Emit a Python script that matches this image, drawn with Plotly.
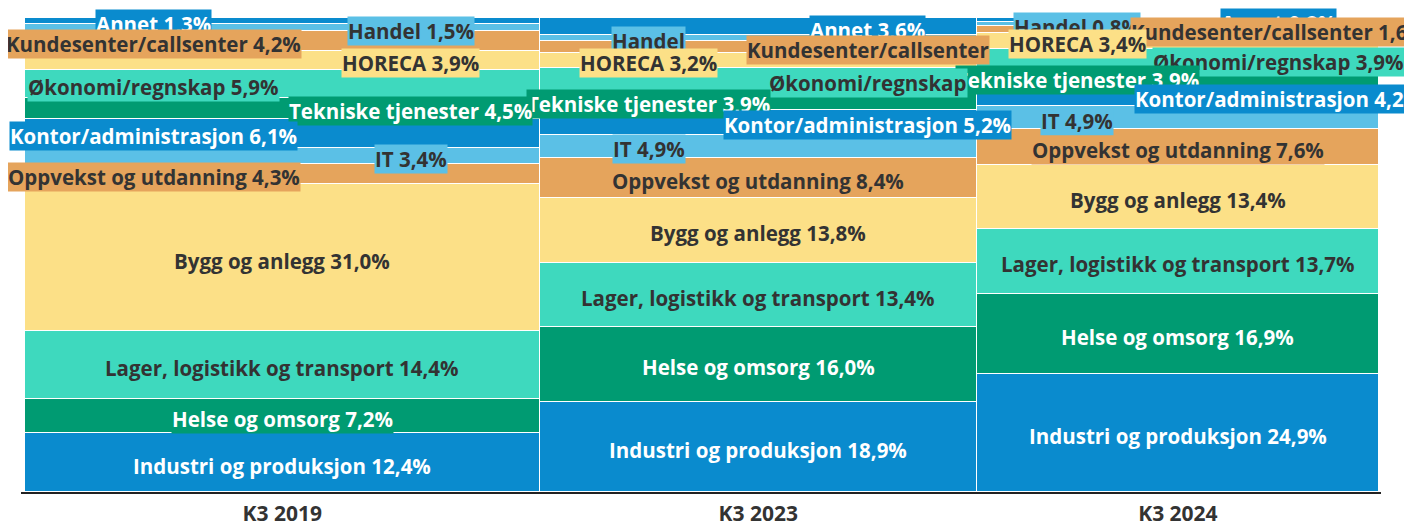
import plotly.graph_objects as go

periods = ["K3 2019", "K3 2023", "K3 2024"]
# relative width of each column (share of total volume)
period_share = [38.0, 32.3, 29.7]

# stacked from bottom to top
categories = [
    "Industri og produksjon", "Helse og omsorg", "Lager, logistikk og transport",
    "Bygg og anlegg", "Oppvekst og utdanning", "IT", "Kontor/administrasjon",
    "Tekniske tjenester", "Økonomi/regnskap", "HORECA",
    "Kundesenter/callsenter", "Handel", "Annet",
]
k3_2019 = [12.4, 7.2, 14.4, 31.0, 4.3, 3.4, 6.1, 4.5, 5.9, 3.9, 4.2, 1.5, 1.3]
k3_2023 = [18.9, 16.0, 13.4, 13.8, 8.4, 4.9, 5.2, 3.9, 5.0, 3.2, 2.5, 1.2, 3.6]
k3_2024 = [24.9, 16.9, 13.7, 13.4, 7.6, 4.9, 4.2, 3.9, 3.9, 3.4, 1.6, 0.8, 0.8]
series = [k3_2019, k3_2023, k3_2024]

# labels shown without the percentage (truncated in the original)
name_only = {(1, "Handel"), (1, "Kundesenter/callsenter"), (1, "Økonomi/regnskap")}

# label placement inside each column: c = centre, l = left quarter, r = right quarter
label_pos = [
    ["c", "c", "c", "c", "l", "r", "l", "r", "l", "r", "l", "r", "l"],
    ["c", "c", "c", "c", "c", "l", "r", "l", "r", "l", "r", "l", "r"],
    ["c", "c", "c", "c", "c", "l", "r", "l", "r", "l", "r", "l", "r"],
]
pos_frac = {"c": 0.5, "l": 0.25, "r": 0.75}

palette = ["#0A8BCE", "#009B72", "#3ED9BE", "#FCE087", "#E5A45C", "#5BC0E6"]
dark_text = {"#0A8BCE": "white", "#009B72": "white"}
colors = [palette[i % len(palette)] for i in range(len(categories))]

font_family = "Open Sans, Segoe UI, sans-serif"

lefts = []
acc = 0
for w in period_share:
    lefts.append(acc)
    acc += w
centers = [l + w / 2 for l, w in zip(lefts, period_share)]

# normalise each column to 100 %
heights = []
for vals in series:
    s = sum(vals)
    heights.append([v / s * 100 for v in vals])

fig = go.Figure()
for j, cat in enumerate(categories):
    fig.add_trace(go.Bar(
        x=centers, y=[heights[i][j] for i in range(len(periods))],
        width=period_share, name=cat,
        marker=dict(color=colors[j], line=dict(color="white", width=1.5)),
        hoverinfo="skip",
    ))

annotations = []
# right-most column first so the left columns' labels sit on top
for i in reversed(range(len(periods))):
    cum = [0]
    for h in heights[i]:
        cum.append(cum[-1] + h)
    col_ann = []
    for j, cat in enumerate(categories):
        val = series[i][j]
        txt = cat if (i, cat) in name_only else f"{cat} {val:.1f}%".replace(".", ",")
        col_ann.append(dict(
            x=lefts[i] + pos_frac[label_pos[i][j]] * period_share[i],
            y=cum[j] + heights[i][j] / 2,
            xref="x", yref="y", text=txt, showarrow=False, yshift=-3,
            bgcolor=colors[j], borderpad=0,
            font=dict(family=font_family, size=20.5, weight=700,
                      color=dark_text.get(colors[j], "#333333")),
        ))
    # lower categories are drawn on top of the ones above them
    annotations.extend(col_ann[::-1])

fig.update_layout(
    barmode="stack",
    bargap=0,
    showlegend=False,
    annotations=annotations,
    plot_bgcolor="white",
    paper_bgcolor="white",
    width=1412, height=525,
    margin=dict(l=13, r=39, t=10, b=41),
    xaxis=dict(
        range=[-0.3, 100.15], tickvals=centers, ticktext=periods,
        showgrid=False, zeroline=False, showline=True, linecolor="#222222", linewidth=1.5,
        ticks="", ticklabelstandoff=2, automargin=False,
        tickfont=dict(family=font_family, size=21, weight=700, color="#333333"),
    ),
    yaxis=dict(range=[0, 100], visible=False),
)

fig.write_html("out.html")
